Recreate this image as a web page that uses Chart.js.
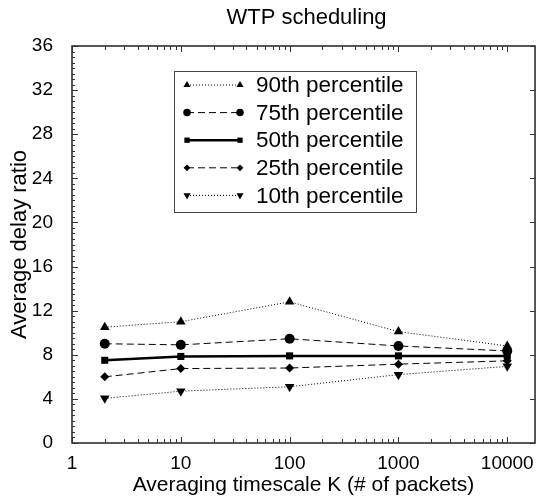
<!DOCTYPE html>
<html><head><meta charset="utf-8">
<script src="https://cdn.jsdelivr.net/npm/chart.js@4/dist/chart.umd.min.js"></script>
<style>html,body{margin:0;padding:0;background:#fff}#wrap{width:543px;height:500px}</style>
</head><body><div id="wrap"><canvas id="c" width="543" height="500"></canvas></div>
<script>
const K = [2, 10, 100, 1000, 10000];
const p90 = [10.5, 11.0, 12.8, 10.1, 8.8];
const p75 = [9.0, 8.9, 9.45, 8.8, 8.35];
const p50 = [7.5, 7.85, 7.9, 7.9, 7.9];
const p25 = [6.0, 6.75, 6.8, 7.15, 7.45];
const p10 = [4.05, 4.7, 5.1, 6.2, 6.95];
const seriesNames = ['90th percentile', '75th percentile', '50th percentile', '25th percentile', '10th percentile'];
const xTickValues = [1, 10, 100, 1000, 10000];
const yTickValues = [0, 4, 8, 12, 16, 20, 24, 28, 32, 36];
const chartTitle = 'WTP scheduling';
const xTitle = 'Averaging timescale K (# of packets)';
const yTitle = 'Average delay ratio';

const FONT = "'Liberation Sans', Arial, Helvetica, sans-serif";
const styles = [
  {pointStyle: 'triangle', rotation: 0, radius: 5.5, dash: [1, 2], width: 1},
  {pointStyle: 'circle', rotation: 0, radius: 5, dash: [7, 4], width: 1},
  {pointStyle: 'rect', rotation: 0, radius: 5, dash: [], width: 2.5},
  {pointStyle: 'rectRot', rotation: 0, radius: 4.5, dash: [7, 4], width: 1},
  {pointStyle: 'triangle', rotation: 180, radius: 5.5, dash: [1, 2], width: 1}
];
const values = [p90, p75, p50, p25, p10];

const datasets = values.map((arr, i) => ({
  label: seriesNames[i],
  data: arr.map((y, j) => ({x: K[j], y: y})),
  borderColor: '#000',
  backgroundColor: '#000',
  borderWidth: styles[i].width,
  borderDash: styles[i].dash,
  pointStyle: styles[i].pointStyle,
  rotation: styles[i].rotation,
  pointRadius: styles[i].radius,
  pointBorderWidth: 0,
  pointBackgroundColor: '#000',
  pointBorderColor: '#000',
  tension: 0,
  fill: false
}));

const framePlugin = {
  id: 'frame',
  beforeDatasetsDraw(chart) {
    const {ctx, chartArea: a, scales: {x, y}} = chart;
    ctx.save();
    ctx.strokeStyle = '#222';
    ctx.lineWidth = 1.5;
    ctx.strokeRect(a.left, a.top, a.right - a.left, a.bottom - a.top);
    ctx.lineWidth = 1;
    ctx.strokeStyle = '#333';
    ctx.beginPath();
    for (let v = 0; v <= 36.001; v += 0.5) {
      const py = Math.round(y.getPixelForValue(v)) + 0.5;
      const major = yTickValues.includes(Math.round(v * 10) / 10);
      const len = major ? 6 : 3;
      ctx.moveTo(a.left, py); ctx.lineTo(a.left + len, py);
      if (major) { ctx.moveTo(a.right, py); ctx.lineTo(a.right - 5, py); }
    }
    for (let d = 1; d <= 10000; d *= 10) {
      for (let m = 1; m <= 9; m++) {
        const v = d * m;
        if (v > x.max) break;
        const px = Math.round(x.getPixelForValue(v)) + 0.5;
        const len = m === 1 ? 6 : 4;
        ctx.moveTo(px, a.bottom); ctx.lineTo(px, a.bottom - len);
        ctx.moveTo(px, a.top); ctx.lineTo(px, a.top + len);
      }
    }
    ctx.stroke();
    ctx.restore();
  },
  afterDraw(chart) {
    const {ctx, chartArea: a} = chart;
    ctx.save();
    ctx.fillStyle = '#000';
    ctx.font = '22px ' + FONT;
    ctx.textAlign = 'center';
    ctx.textBaseline = 'middle';
    ctx.fillText(chartTitle, (a.left + a.right) / 2 + 3, 18);
    const bx = 174, by = 71, bw = 242, bh = 141;
    ctx.fillStyle = '#fff';
    ctx.fillRect(bx, by, bw, bh);
    ctx.strokeStyle = '#444';
    ctx.lineWidth = 1;
    ctx.strokeRect(bx + 0.5, by + 0.5, bw, bh);
    chart.data.datasets.forEach((ds, i) => {
      const cy = 85 + i * 27.6;
      const x0 = 187, x1 = 240;
      ctx.strokeStyle = '#000';
      ctx.lineWidth = ds.borderWidth;
      ctx.setLineDash(ds.borderDash);
      ctx.beginPath(); ctx.moveTo(x0, cy); ctx.lineTo(x1, cy); ctx.stroke();
      ctx.setLineDash([]);
      const po = {pointStyle: ds.pointStyle, rotation: ds.rotation, radius: ds.pointRadius * 0.75, borderWidth: 0};
      ctx.fillStyle = '#000';
      Chart.helpers.drawPoint(ctx, po, x0, cy);
      Chart.helpers.drawPoint(ctx, po, x1, cy);
      ctx.fillStyle = '#000';
      ctx.font = '22.5px ' + FONT;
      ctx.textAlign = 'left';
      ctx.textBaseline = 'middle';
      ctx.fillText(ds.label, 256, cy + 1);
    });
    ctx.restore();
  }
};

new Chart(document.getElementById('c'), {
  type: 'line',
  data: {datasets},
  options: {
    responsive: false,
    animation: false,
    devicePixelRatio: 1,
    layout: {padding: {top: 46, right: 1, left: 0, bottom: 0}},
    plugins: {legend: {display: false}, title: {display: false}, tooltip: {enabled: false}},
    scales: {
      x: {
        type: 'logarithmic', min: 1, max: 18000, position: 'bottom',
        grid: {display: false, drawTicks: false},
        border: {display: false},
        afterBuildTicks: s => { s.ticks = xTickValues.map(v => ({value: v})); },
        afterFit: s => { s.height = 57; },
        ticks: {color: '#000', font: {family: FONT, size: 19}, padding: 9, maxRotation: 0, autoSkip: false, callback: v => String(v)},
        title: {display: true, text: xTitle, color: '#000', font: {family: FONT, size: 21}, padding: {top: 0, bottom: 2}}
      },
      y: {
        type: 'linear', min: 0, max: 36, position: 'left',
        grid: {display: false, drawTicks: false},
        border: {display: false},
        afterBuildTicks: s => { s.ticks = yTickValues.map(v => ({value: v})); },
        afterFit: s => { s.width = 72; },
        ticks: {color: '#000', font: {family: FONT, size: 19}, padding: 19, autoSkip: false, callback: v => String(v)},
        title: {display: true, text: yTitle, color: '#000', font: {family: FONT, size: 22}, padding: {top: 7, bottom: 0}}
      }
    }
  },
  plugins: [framePlugin]
});
</script></body></html>
